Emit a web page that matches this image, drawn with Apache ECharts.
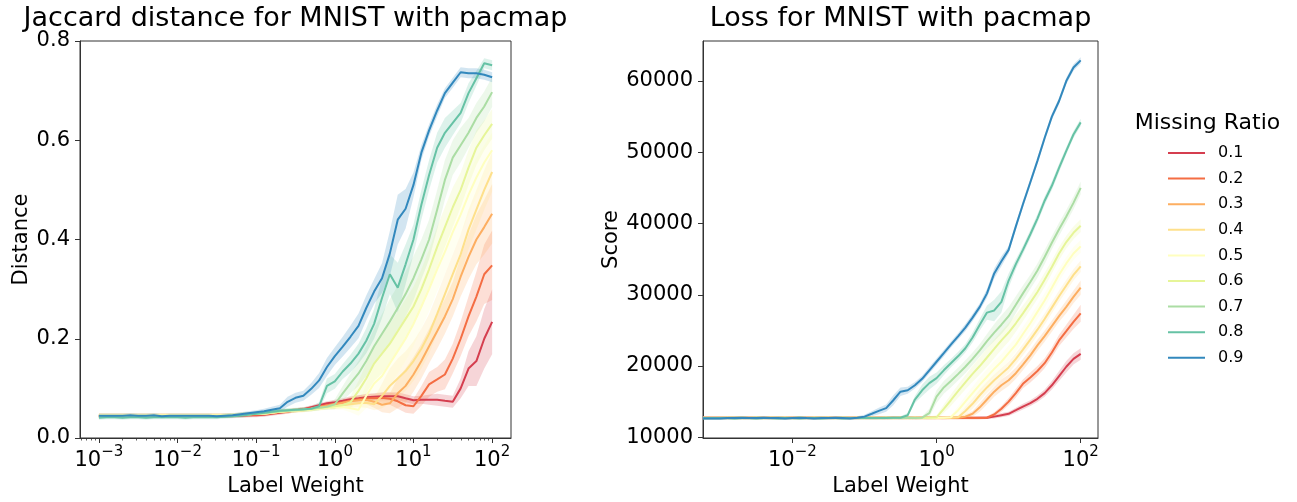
<!DOCTYPE html>
<html><head><meta charset="utf-8">
<script src="https://cdn.jsdelivr.net/npm/echarts@6/dist/echarts.min.js"></script>
<style>html,body{margin:0;padding:0;background:#fff}#c{width:1297px;height:502px}</style>
</head><body><div id="c"></div>
<script>
// ---------- data ----------
const ratios = ['0.1','0.2','0.3','0.4','0.5','0.6','0.7','0.8','0.9'];
const colors = ['#d53e4f','#f46d43','#fdae61','#fee08b','#ffffbf','#e6f598','#abdda4','#66c2a5','#3288bd'];

const labelWeights = [0.001,0.00126,0.00158,0.002,0.00251,0.00316,0.00398,0.00501,0.00631,0.00794,
  0.01,0.0126,0.0158,0.02,0.0251,0.0316,0.0398,0.0501,0.0631,0.0794,
  0.1,0.126,0.158,0.2,0.251,0.316,0.398,0.501,0.631,0.794,
  1,1.26,1.58,2,2.51,3.16,3.98,5.01,6.31,7.94,
  10,12.6,15.8,20,25.1,31.6,39.8,50.1,63.1,79.4,100];
// loss panel also has label weight 0, which the log axis clips to its left edge
const lossWeights = [0.000575].concat(labelWeights);

const xTicksDist = [0.001,0.01,0.1,1,10,100];
const xTicksLoss = [0.01,1,100];
const yTicksDist = [0,0.2,0.4,0.6,0.8];
const yTicksLoss = [10000,20000,30000,40000,50000,60000];

// Jaccard distance (mean) per missing ratio
const dist01 = [0.045,0.045,0.045,0.045,0.045,0.045,0.045,0.045,0.045,0.045, 0.045,0.045,0.045,0.045,0.045,0.045,0.045,0.045,0.045,0.046,
  0.046,0.047,0.049,0.051,0.053,0.056,0.058,0.062,0.066,0.070, 0.072,0.075,0.078,0.080,0.082,0.083,0.084,0.084,0.084,0.080,
  0.076,0.077,0.077,0.077,0.075,0.073,0.100,0.140,0.155,0.200,0.234];
const dist02 = [0.045,0.045,0.045,0.045,0.045,0.045,0.045,0.045,0.045,0.045, 0.045,0.045,0.045,0.045,0.045,0.045,0.045,0.045,0.046,0.046,
  0.047,0.048,0.050,0.052,0.054,0.056,0.058,0.060,0.063,0.066, 0.069,0.072,0.075,0.078,0.080,0.080,0.081,0.079,0.074,0.066,
  0.064,0.085,0.108,0.118,0.128,0.160,0.200,0.245,0.285,0.330,0.348];
const dist03 = [0.045,0.045,0.045,0.045,0.045,0.045,0.045,0.045,0.045,0.045, 0.045,0.045,0.045,0.045,0.045,0.045,0.045,0.046,0.047,0.048,
  0.049,0.049,0.051,0.053,0.054,0.056,0.057,0.059,0.062,0.065, 0.068,0.071,0.074,0.076,0.077,0.073,0.067,0.070,0.090,0.105,
  0.128,0.155,0.185,0.215,0.245,0.280,0.325,0.365,0.400,0.425,0.452];
const dist04 = [0.046,0.046,0.046,0.046,0.046,0.046,0.046,0.046,0.046,0.046, 0.046,0.046,0.046,0.046,0.046,0.046,0.046,0.046,0.047,0.048,
  0.049,0.049,0.051,0.053,0.054,0.055,0.056,0.058,0.060,0.062, 0.064,0.066,0.068,0.070,0.071,0.068,0.085,0.105,0.120,0.135,
  0.155,0.180,0.210,0.250,0.290,0.330,0.370,0.420,0.460,0.500,0.536];
const dist05 = [0.046,0.046,0.046,0.046,0.046,0.046,0.046,0.046,0.046,0.046, 0.046,0.046,0.046,0.046,0.046,0.046,0.046,0.047,0.047,0.048,
  0.049,0.049,0.051,0.053,0.054,0.055,0.056,0.057,0.059,0.061, 0.062,0.063,0.060,0.057,0.085,0.110,0.125,0.150,0.175,0.200,
  0.230,0.265,0.300,0.340,0.375,0.415,0.450,0.490,0.525,0.555,0.580];
const dist06 = [0.045,0.045,0.045,0.045,0.045,0.045,0.045,0.045,0.045,0.045, 0.045,0.045,0.045,0.045,0.045,0.045,0.045,0.046,0.047,0.048,
  0.049,0.050,0.052,0.053,0.055,0.056,0.057,0.058,0.060,0.062, 0.064,0.066,0.072,0.095,0.120,0.150,0.170,0.190,0.215,0.240,
  0.265,0.300,0.340,0.385,0.425,0.465,0.500,0.545,0.585,0.610,0.633];
const dist07 = [0.044,0.044,0.044,0.044,0.044,0.044,0.044,0.044,0.044,0.044, 0.044,0.044,0.044,0.044,0.044,0.044,0.045,0.046,0.047,0.048,
  0.049,0.050,0.052,0.054,0.055,0.056,0.057,0.059,0.061,0.063, 0.068,0.090,0.110,0.130,0.155,0.185,0.210,0.235,0.262,0.290,
  0.322,0.360,0.400,0.460,0.520,0.565,0.590,0.615,0.645,0.668,0.697];
const dist08 = [0.041,0.042,0.042,0.041,0.042,0.042,0.041,0.042,0.042,0.042, 0.042,0.041,0.042,0.042,0.042,0.042,0.043,0.044,0.045,0.047,
  0.049,0.051,0.053,0.055,0.056,0.057,0.058,0.059,0.064,0.105, 0.114,0.134,0.150,0.170,0.196,0.230,0.282,0.330,0.303,0.350,
  0.400,0.470,0.530,0.585,0.615,0.635,0.655,0.695,0.725,0.755,0.751];
const dist09 = [0.045,0.045,0.045,0.045,0.046,0.045,0.045,0.046,0.044,0.045, 0.045,0.045,0.045,0.045,0.045,0.044,0.045,0.046,0.048,0.050,
  0.052,0.054,0.057,0.060,0.073,0.081,0.085,0.099,0.116,0.143, 0.165,0.184,0.204,0.226,0.262,0.295,0.322,0.372,0.440,0.462,
  0.510,0.575,0.620,0.660,0.695,0.716,0.737,0.735,0.735,0.732,0.727];

// confidence half-widths (distance)
const distCi01 = [0.004,0.004,0.004,0.004,0.004,0.004,0.004,0.004,0.004,0.004, 0.004,0.004,0.004,0.004,0.004,0.004,0.004,0.004,0.004,0.004,
  0.004,0.004,0.004,0.004,0.004,0.004,0.004,0.004,0.004,0.004, 0.005,0.005,0.006,0.006,0.007,0.007,0.008,0.008,0.008,0.008,
  0.008,0.008,0.010,0.012,0.012,0.012,0.020,0.035,0.050,0.060,0.065];
const distCi02 = [0.004,0.004,0.004,0.004,0.004,0.004,0.004,0.004,0.004,0.004, 0.004,0.004,0.004,0.004,0.004,0.004,0.004,0.004,0.004,0.004,
  0.004,0.004,0.004,0.004,0.004,0.004,0.004,0.004,0.004,0.004, 0.005,0.006,0.007,0.008,0.008,0.009,0.010,0.012,0.015,0.015,
  0.015,0.020,0.025,0.025,0.030,0.030,0.035,0.040,0.050,0.060,0.070];
const distCi03 = [0.004,0.004,0.004,0.004,0.004,0.004,0.004,0.004,0.004,0.004, 0.004,0.004,0.004,0.004,0.004,0.004,0.004,0.004,0.004,0.004,
  0.004,0.004,0.004,0.004,0.004,0.004,0.004,0.004,0.004,0.004, 0.005,0.006,0.007,0.008,0.009,0.012,0.015,0.020,0.030,0.035,
  0.035,0.035,0.035,0.035,0.035,0.035,0.040,0.045,0.050,0.055,0.060];
const distCi04 = [0.004,0.004,0.004,0.004,0.004,0.004,0.004,0.004,0.004,0.004, 0.004,0.004,0.004,0.004,0.004,0.004,0.004,0.004,0.004,0.004,
  0.004,0.004,0.004,0.004,0.004,0.004,0.004,0.004,0.004,0.004, 0.005,0.006,0.007,0.008,0.010,0.012,0.025,0.035,0.040,0.040,
  0.040,0.040,0.040,0.040,0.040,0.040,0.040,0.040,0.040,0.040,0.040];
const distCi05 = [0.004,0.004,0.004,0.004,0.004,0.004,0.004,0.004,0.004,0.004, 0.004,0.004,0.004,0.004,0.004,0.004,0.004,0.004,0.004,0.004,
  0.004,0.004,0.004,0.004,0.004,0.004,0.004,0.004,0.004,0.004, 0.005,0.006,0.008,0.012,0.025,0.035,0.040,0.045,0.045,0.045,
  0.045,0.045,0.045,0.045,0.045,0.045,0.040,0.040,0.040,0.035,0.035];
const distCi06 = [0.004,0.004,0.004,0.004,0.004,0.004,0.004,0.004,0.004,0.004, 0.004,0.004,0.004,0.004,0.004,0.004,0.004,0.004,0.004,0.004,
  0.004,0.004,0.004,0.004,0.004,0.004,0.004,0.004,0.004,0.004, 0.005,0.006,0.012,0.020,0.030,0.035,0.040,0.040,0.040,0.040,
  0.040,0.040,0.040,0.040,0.040,0.040,0.035,0.035,0.035,0.030,0.030];
const distCi07 = [0.004,0.004,0.004,0.004,0.004,0.004,0.004,0.004,0.004,0.004, 0.004,0.004,0.004,0.004,0.004,0.004,0.004,0.004,0.004,0.004,
  0.004,0.004,0.004,0.004,0.004,0.004,0.004,0.004,0.004,0.006, 0.010,0.015,0.020,0.025,0.030,0.035,0.040,0.045,0.045,0.045,
  0.045,0.040,0.040,0.040,0.040,0.035,0.035,0.030,0.030,0.030,0.030];
const distCi08 = [0.004,0.004,0.004,0.004,0.004,0.004,0.004,0.004,0.004,0.004, 0.004,0.004,0.004,0.004,0.004,0.004,0.004,0.004,0.004,0.004,
  0.004,0.004,0.004,0.004,0.004,0.004,0.004,0.005,0.008,0.015, 0.015,0.015,0.018,0.020,0.025,0.030,0.040,0.040,0.050,0.040,
  0.030,0.030,0.030,0.030,0.030,0.025,0.020,0.020,0.015,0.010,0.010];
const distCi09 = [0.004,0.004,0.004,0.004,0.004,0.004,0.004,0.004,0.004,0.004, 0.004,0.004,0.004,0.004,0.004,0.004,0.004,0.004,0.004,0.004,
  0.004,0.005,0.006,0.007,0.010,0.010,0.010,0.012,0.015,0.018, 0.018,0.020,0.022,0.025,0.025,0.025,0.030,0.045,0.050,0.040,
  0.025,0.015,0.012,0.012,0.010,0.010,0.010,0.010,0.010,0.010,0.010];

// Loss score (mean) per missing ratio; first value is label weight 0
const loss01 = [12750, 12750,12700,12750,12700,12750,12700,12750,12700,12750,12700, 12750,12700,12750,12700,12750,12700,12750,12700,12750,12700,
  12750,12700,12750,12700,12750,12700,12750,12700,12750,12700, 12750,12700,12750,12700,12750,12700,12750,12750,12900,13100,
  13300,13800,14300,14800,15400,16200,17300,18600,19900,21000,21700];
const loss02 = [12700, 12700,12750,12700,12750,12700,12750,12700,12750,12700,12750, 12700,12750,12700,12750,12700,12750,12700,12750,12700,12750,
  12700,12750,12700,12750,12700,12750,12700,12750,12700,12750, 12700,12750,12700,12750,12700,12750,12700,12750,13200,14000,
  15000,16200,17500,18400,19300,20400,21900,23600,24900,26200,27400];
const loss03 = [12750, 12750,12700,12750,12700,12750,12700,12750,12700,12750,12700, 12750,12700,12750,12700,12750,12700,12750,12700,12750,12700,
  12750,12700,12750,12700,12750,12700,12750,12700,12750,12700, 12750,12700,12750,12750,12900,13300,14200,15300,16400,17300,
  18000,19000,20200,21500,22900,24200,25600,27000,28300,29700,31000];
const loss04 = [12700, 12700,12750,12700,12750,12700,12750,12700,12750,12700,12750, 12700,12750,12700,12750,12700,12750,12700,12750,12700,12750,
  12700,12750,12700,12750,12700,12750,12700,12750,12700,12750, 12700,12750,12750,12800,13700,14700,15900,17000,18000,18900,
  19800,21000,22300,23700,25100,26600,28200,29800,31300,32800,34000];
const loss05 = [12750, 12750,12700,12750,12700,12750,12700,12750,12700,12750,12700, 12750,12700,12750,12700,12750,12700,12750,12700,12750,12700,
  12750,12700,12750,12700,12750,12700,12750,12700,12750,12700, 12750,12750,12800,13800,15000,16200,17400,18500,19600,20600,
  21800,23000,24500,26000,27600,29200,31000,32800,34400,35800,36800];
const loss06 = [12700, 12700,12750,12700,12750,12700,12750,12700,12750,12700,12750, 12700,12750,12700,12750,12700,12750,12700,12750,12700,12750,
  12700,12750,12700,12750,12700,12750,12700,12750,12700,12750, 12800,14000,15200,16500,17700,18900,20000,21200,22400,23600,
  24700,26000,27400,28900,30400,32100,33900,35800,37400,38700,39700];
const loss07 = [12700, 12700,12700,12750,12700,12700,12750,12700,12700,12750,12700, 12700,12750,12700,12700,12750,12700,12700,12750,12700,12700,
  12750,12700,12700,12750,12700,12700,12750,12700,12750,13400, 15700,17000,17900,18900,19900,21000,22200,23500,24700,25800,
  27000,28600,30200,31800,33400,35300,37300,39200,41000,42900,45000];
const loss08 = [12700, 12700,12700,12650,12700,12700,12650,12700,12700,12650,12700, 12700,12650,12700,12700,12650,12700,12700,12650,12700,12700,
  12700,12700,12700,12700,12750,12750,13100,15300,16600,17600, 18300,19400,20400,21400,22500,24000,25800,27500,27800,29000,
  32000,34300,36300,38500,40700,43200,45300,47800,50200,52500,54200];
const loss09 = [12650, 12650,12700,12700,12750,12700,12700,12750,12700,12700,12650, 12700,12750,12700,12650,12700,12700,12750,12700,12650,12750,
  12900,13300,13700,14100,15200,16400,16600,17300,18200,19400, 20600,21800,23000,24200,25400,26800,28300,30200,33000,34700,
  36300,39600,42700,45800,48800,52000,55000,57200,60000,61900,62900];

// confidence half-widths (loss)
const lossCi01 = [200, 200,200,200,200,200,200,200,200,200,200, 200,200,200,200,200,200,200,200,200,200,
  200,200,200,200,200,200,200,200,200,200, 200,200,200,200,200,200,200,200,250,300,
  300,350,400,400,450,500,600,700,800,800,800];
const lossCi02 = [200, 200,200,200,200,200,200,200,200,200,200, 200,200,200,200,200,200,200,200,200,200,
  200,200,200,200,200,200,200,200,200,200, 200,200,200,200,200,200,200,200,300,400,
  500,600,600,700,700,700,700,800,900,1000,1200];
const lossCi03 = [200, 200,200,200,200,200,200,200,200,200,200, 200,200,200,200,200,200,200,200,200,200,
  200,200,200,200,200,200,200,200,200,200, 200,200,200,200,300,400,600,700,700,800,
  800,800,800,800,800,800,800,800,900,900,1000];
const lossCi04 = [200, 200,200,200,200,200,200,200,200,200,200, 200,200,200,200,200,200,200,200,200,200,
  200,200,200,200,200,200,200,200,200,200, 200,200,200,300,600,700,800,800,800,800,
  800,800,800,800,800,800,800,800,800,800,800];
const lossCi05 = [200, 200,200,200,200,200,200,200,200,200,200, 200,200,200,200,200,200,200,200,200,200,
  200,200,200,200,200,200,200,200,200,200, 200,200,300,600,800,900,1000,1100,1100,1100,
  1100,1000,1000,1000,1000,1000,1000,900,900,900,900];
const lossCi06 = [200, 200,200,200,200,200,200,200,200,200,200, 200,200,200,200,200,200,200,200,200,200,
  200,200,200,200,200,200,200,200,200,200, 300,600,800,900,1000,1100,1200,1300,1300,1300,
  1300,1200,1100,1000,1000,1000,900,900,900,900,900];
const lossCi07 = [200, 200,200,200,200,200,200,200,200,200,200, 200,200,200,200,200,200,200,200,200,200,
  200,200,200,200,200,200,200,200,200,600, 900,900,900,900,900,900,900,1000,1200,1300,
  1300,1200,1100,1000,1000,1000,900,900,900,900,900];
const lossCi08 = [200, 200,200,200,200,200,200,200,200,200,200, 200,200,200,200,200,200,200,200,200,200,
  200,200,200,200,200,200,300,500,800,900, 800,700,600,600,600,700,800,1000,1500,1500,
  1000,700,600,600,600,600,600,600,500,500,500];
const lossCi09 = [200, 200,200,200,200,200,200,200,200,200,200, 200,200,200,200,200,200,200,200,200,200,
  250,350,450,500,700,600,500,450,450,450, 450,450,450,450,500,500,500,600,700,700,
  500,450,450,450,450,450,450,450,450,450,450];

const distMeans = [dist01,dist02,dist03,dist04,dist05,dist06,dist07,dist08,dist09];
const distCis = [distCi01,distCi02,distCi03,distCi04,distCi05,distCi06,distCi07,distCi08,distCi09];
const lossMeans = [loss01,loss02,loss03,loss04,loss05,loss06,loss07,loss08,loss09];
const lossCis = [lossCi01,lossCi02,lossCi03,lossCi04,lossCi05,lossCi06,lossCi07,lossCi08,lossCi09];

// ---------- chart ----------
const FONT = 'DejaVu Sans';
const X_MIN = 0.000575, X_MAX = 173.8;
const minorTicks = [];
[0.0001,0.001,0.01,0.1,1,10].forEach(d => { for (let k = 2; k <= 9; k++) { const v = d * k; if (v > X_MIN && v < X_MAX) minorTicks.push(+v.toPrecision(3)); } });

function supLabel(v) {
  const e = Math.round(Math.log10(v));
  return '{b|10}{s|' + (e < 0 ? '\u2212' : '') + Math.abs(e) + '}';
}
const xRich = { b: { fontSize: 21, fontFamily: FONT, color: '#000', lineHeight: 26, verticalAlign: 'bottom' },
                s: { fontSize: 15, fontFamily: FONT, color: '#000', lineHeight: 15, verticalAlign: 'top' } };
const axisLineStyle = { lineStyle: { color: '#333', width: 1 } };

function bandSeries(xs, m, c, color, xi, yi) {
  return {
    type: 'custom', xAxisIndex: xi, yAxisIndex: yi, silent: true, z: 1, clip: true,
    data: [[xs[0], m[0]]],
    renderItem: function (params, api) {
      const pts = [];
      for (let i = 0; i < xs.length; i++) pts.push(api.coord([xs[i], m[i] + c[i]]));
      for (let i = xs.length - 1; i >= 0; i--) pts.push(api.coord([xs[i], m[i] - c[i]]));
      return { type: 'polygon', shape: { points: pts }, style: { fill: color, opacity: 0.22 } };
    }
  };
}

function series() {
  const out = [];
  for (let p = 0; p < 2; p++) {
    const xs = p === 0 ? labelWeights : lossWeights;
    const means = p === 0 ? distMeans : lossMeans;
    const cis = p === 0 ? distCis : lossCis;
    const yi = p;
    const xi = p === 0 ? 0 : 2;
    for (let s = 0; s < 9; s++) out.push(bandSeries(xs, means[s], cis[s], colors[s], xi, yi));
    for (let s = 0; s < 9; s++) {
      out.push({ name: ratios[s], type: 'line', xAxisIndex: xi, yAxisIndex: yi, symbol: 'none', z: 2 + s * 0.01,
        color: colors[s], lineStyle: { color: colors[s], width: 2 }, data: xs.map((x, i) => [x, means[s][i]]) });
    }
  }
  return out;
}

const chart = echarts.init(document.getElementById('c'), null, { renderer: 'canvas' });
chart.setOption({
  animation: false,
  backgroundColor: '#fff',
  title: [
    { text: 'Jaccard distance for MNIST with pacmap', left: 295.5, top: 5, textAlign: 'center', padding: 0,
      textStyle: { fontFamily: FONT, fontSize: 27, fontWeight: 'normal', color: '#000' } },
    { text: 'Loss for MNIST with pacmap', left: 900.5, top: 5, textAlign: 'center', padding: 0,
      textStyle: { fontFamily: FONT, fontSize: 27, fontWeight: 'normal', color: '#000' } },
    { text: 'Missing Ratio', left: 1207.5, top: 112, textAlign: 'center', padding: 0,
      textStyle: { fontFamily: FONT, fontSize: 22, fontWeight: 'normal', color: '#000' } }
  ],
  legend: {
    data: ratios, orient: 'vertical', left: 1168, top: 145, padding: 0, icon: 'rect', itemWidth: 37, itemHeight: 2,
    itemGap: 9.6, selectedMode: false,
    textStyle: { fontFamily: FONT, fontSize: 16, color: '#000', lineHeight: 16, padding: [0, 0, 0, 8] }
  },
  grid: [
    { left: 80, top: 41, width: 431, height: 397, show: true, borderColor: '#333', borderWidth: 1, backgroundColor: 'transparent' },
    { left: 703, top: 41, width: 395, height: 397, show: true, borderColor: '#333', borderWidth: 1, backgroundColor: 'transparent' }
  ],
  xAxis: [
    { type: 'log', gridIndex: 0, min: X_MIN, max: X_MAX, position: 'bottom',
      name: 'Label Weight', nameLocation: 'middle', nameGap: 34,
      nameTextStyle: { fontFamily: FONT, fontSize: 21, color: '#000' },
      axisLine: axisLineStyle, splitLine: { show: false },
      axisTick: { inside: false, length: 5, lineStyle: { color: '#333' }, customValues: xTicksDist },
      axisLabel: { margin: 7, customValues: xTicksDist, formatter: supLabel, rich: xRich } },
    { type: 'log', gridIndex: 0, min: X_MIN, max: X_MAX, position: 'bottom',
      axisLine: { show: false }, splitLine: { show: false }, axisLabel: { show: false },
      axisTick: { length: 2.5, lineStyle: { color: '#333', width: 0.8 }, customValues: minorTicks } },
    { type: 'log', gridIndex: 1, min: X_MIN, max: X_MAX, position: 'bottom',
      name: 'Label Weight', nameLocation: 'middle', nameGap: 34,
      nameTextStyle: { fontFamily: FONT, fontSize: 21, color: '#000' },
      axisLine: axisLineStyle, splitLine: { show: false },
      axisTick: { length: 5, lineStyle: { color: '#333' }, customValues: xTicksLoss },
      axisLabel: { margin: 7, customValues: xTicksLoss, formatter: supLabel, rich: xRich } }
  ],
  yAxis: [
    { type: 'value', gridIndex: 0, min: 0, max: 0.8,
      name: 'Distance', nameLocation: 'middle', nameGap: 48, nameRotate: 90,
      nameTextStyle: { fontFamily: FONT, fontSize: 21, color: '#000' },
      axisLine: { show: true, lineStyle: { color: '#333' } }, splitLine: { show: false },
      axisTick: { show: true, length: 5, lineStyle: { color: '#333' }, customValues: yTicksDist },
      axisLabel: { margin: 10, customValues: yTicksDist, formatter: v => v.toFixed(1),
        fontFamily: FONT, fontSize: 21, color: '#000' } },
    { type: 'value', gridIndex: 1, min: 9900, max: 65620,
      name: 'Score', nameLocation: 'middle', nameGap: 79, nameRotate: 90,
      nameTextStyle: { fontFamily: FONT, fontSize: 21, color: '#000' },
      axisLine: { show: true, lineStyle: { color: '#333' } }, splitLine: { show: false },
      axisTick: { show: true, length: 5, lineStyle: { color: '#333' }, customValues: yTicksLoss },
      axisLabel: { margin: 10, customValues: yTicksLoss, formatter: v => String(v),
        fontFamily: FONT, fontSize: 21, color: '#000' } }
  ],
  series: series()
});
</script></body></html>
